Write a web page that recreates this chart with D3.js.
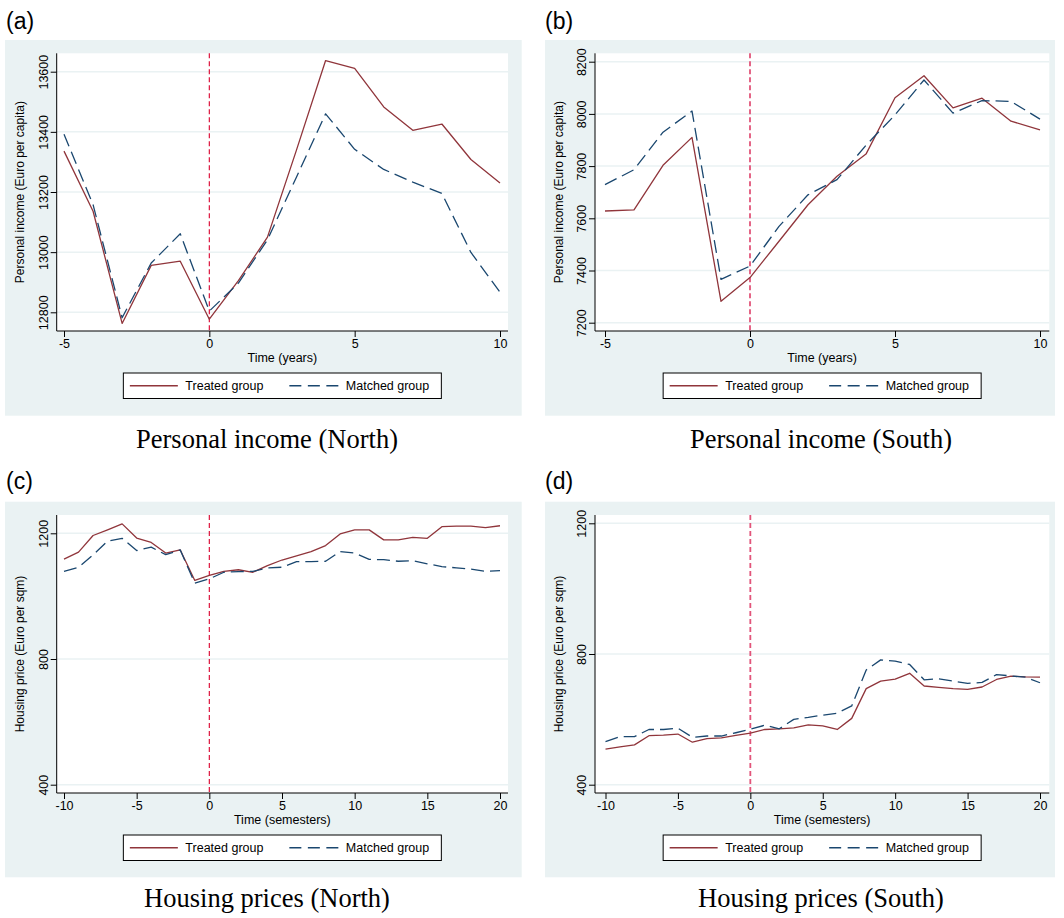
<!DOCTYPE html>
<html><head><meta charset="utf-8">
<script src="https://cdn.jsdelivr.net/npm/d3@7"></script>
<style>html,body{margin:0;padding:0;background:#fff;}svg{display:block;}</style>
</head><body>
<script>
// ---------- DATA ----------
const years = [-5,-4,-3,-2,-1,0,1,2,3,4,5,6,7,8,9,10];
const semesters = [-10,-9,-8,-7,-6,-5,-4,-3,-2,-1,0,1,2,3,4,5,6,7,8,9,10,11,12,13,14,15,16,17,18,19,20];

const northIncomeTreated = [13336,13136,12763,12956,12970,12777,12905,13050,13340,13637,13611,13483,13405,13426,13308,13230];
const northIncomeMatched = [13392,13158,12782,12964,13061,12804,12897,13041,13250,13460,13342,13275,13233,13195,12999,12867];
const southIncomeTreated = [7628,7632,7803,7910,7282,7373,7512,7652,7761,7846,8062,8146,8023,8060,7972,7939];
const southIncomeMatched = [7729,7786,7930,8011,7366,7417,7569,7690,7748,7880,7996,8130,8003,8051,8048,7980];

const northHousingTreated = [1118,1140,1193,1211,1230,1185,1171,1137,1147,1050,1066,1079,1084,1076,1097,1115,1128,1142,1161,1198,1211,1211,1179,1179,1187,1184,1221,1223,1223,1218,1224];
const northHousingMatched = [1079,1092,1131,1175,1184,1145,1156,1132,1147,1041,1055,1076,1078,1079,1090,1092,1110,1110,1111,1142,1137,1117,1116,1111,1113,1103,1094,1090,1086,1079,1081];
const southHousingTreated = [509,516,522,550,552,555,530,541,543,551,558,569,571,574,583,580,569,603,694,717,723,741,702,698,694,692,699,722,732,730,729];
const southHousingMatched = [532,547,547,569,569,573,545,549,549,559,570,582,571,600,606,613,619,641,751,782,778,768,721,724,717,710,713,737,733,729,712];

const yearTicks = [-5,0,5,10];
const semesterTicks = [-10,-5,0,5,10,15,20];
const northIncomeTicks = [12800,13000,13200,13400,13600];
const southIncomeTicks = [7200,7400,7600,7800,8000,8200];
const housingTicks = [400,800,1200];

const seriesNames = ["Treated group","Matched group"];
const panelLetters = ["(a)","(b)","(c)","(d)"];
const captions = ["Personal income (North)","Personal income (South)","Housing prices (North)","Housing prices (South)"];
const yTitles = ["Personal income (Euro per capita)","Personal income (Euro per capita)","Housing price (Euro per sqm)","Housing price (Euro per sqm)"];
const xTitles = ["Time (years)","Time (years)","Time (semesters)","Time (semesters)"];

// ---------- STYLE / LAYOUT ----------
const C = {
  bg:"#EAF2F3", grid:"#EAF2F3", treated:"#90353B", matched:"#1A476F", axis:"#000"
};
const sans = "'Liberation Sans', Arial, sans-serif";
const serif = "'Liberation Serif', 'Times New Roman', serif";

const panels = [
  {x:years, t:northIncomeTreated, m:northIncomeMatched, xt:yearTicks, yt:northIncomeTicks,
   xDom:[-5,10], yDom:[12800,13600],
   box:[5,40,521.7,415.7], plot:[56.7,53.3,508,331], xr:[64,500], yr:[312.3,71.7], capX:267, capY:448, letterX:6, letterY:28.5, vw:1.2, vc:"#DC143C"},
  {x:years, t:southIncomeTreated, m:southIncomeMatched, xt:yearTicks, yt:southIncomeTicks,
   xDom:[-5,10], yDom:[7200,8200],
   box:[545,40,1055,415.7], plot:[595,53.3,1049.3,331], xr:[605,1040], yr:[322.7,61.7], capX:821, capY:448, letterX:545, letterY:28.5, vw:1.8, vc:"#E2557A"},
  {x:semesters, t:northHousingTreated, m:northHousingMatched, xt:semesterTicks, yt:housingTicks,
   xDom:[-10,20], yDom:[400,1200],
   box:[5,501.7,521.7,877.3], plot:[56.7,515,508,793], xr:[64,500], yr:[784.7,533.3], capX:267, capY:907, letterX:6, letterY:488.5, vw:1.2, vc:"#DC143C"},
  {x:semesters, t:southHousingTreated, m:southHousingMatched, xt:semesterTicks, yt:housingTicks,
   xDom:[-10,20], yDom:[400,1200],
   box:[545,501.7,1055,877.3], plot:[595,515,1049.3,793], xr:[605.5,1040], yr:[784.7,523.3], capX:821, capY:907, letterX:545, letterY:488.5, vw:1.8, vc:"#E2557A"}
];

const svg = d3.select("body").append("svg").attr("width",1064).attr("height",918);
svg.append("rect").attr("width",1064).attr("height",918).attr("fill","#fff");

panels.forEach((p,i)=>{
  const g = svg.append("g");
  const [bx0,by0,bx1,by1] = p.box;
  const [px0,py0,px1,py1] = p.plot;
  g.append("rect").attr("x",bx0).attr("y",by0).attr("width",bx1-bx0).attr("height",by1-by0).attr("fill",C.bg);
  g.append("rect").attr("x",px0).attr("y",py0).attr("width",px1-px0).attr("height",py1-py0).attr("fill","#fff");

  const xs = d3.scaleLinear().domain(p.xDom).range(p.xr);
  const ys = d3.scaleLinear().domain(p.yDom).range(p.yr);

  // grid
  g.selectAll(".grid").data(p.yt).join("line")
    .attr("x1",px0).attr("x2",px1).attr("y1",d=>ys(d)).attr("y2",d=>ys(d))
    .attr("stroke",C.grid).attr("stroke-width",1.5);

  // y axis
  const yAxis = d3.axisLeft(ys).tickValues(p.yt).tickSize(6).tickPadding(0).tickFormat(d3.format("d"));
  const ya = g.append("g").attr("transform",`translate(${px0},0)`).call(yAxis);
  ya.select(".domain").remove();
  ya.selectAll(".tick line").attr("stroke",C.axis).attr("stroke-width",1);
  ya.selectAll(".tick text").attr("x",null).attr("dy",null)
    .attr("transform","translate(-9,0) rotate(-90)").attr("text-anchor","middle")
    .style("font-family",sans).style("font-size","12.5px").attr("fill","#000");
  g.append("line").attr("x1",px0).attr("x2",px0).attr("y1",py0).attr("y2",py1).attr("stroke",C.axis).attr("stroke-width",1);

  // x axis
  const xAxis = d3.axisBottom(xs).tickValues(p.xt).tickSize(6).tickPadding(2).tickFormat(d=>String(d).replace("−","-"));
  const xa = g.append("g").attr("transform",`translate(0,${py1})`).call(xAxis);
  xa.select(".domain").remove();
  xa.selectAll(".tick line").attr("stroke",C.axis).attr("stroke-width",1);
  xa.selectAll(".tick text").style("font-family",sans).style("font-size","12.5px").attr("fill","#000");
  g.append("line").attr("x1",px0).attr("x2",px1).attr("y1",py1).attr("y2",py1).attr("stroke",C.axis).attr("stroke-width",1);

  // vertical reference line at 0
  g.append("line").attr("x1",xs(0)).attr("x2",xs(0)).attr("y1",py0).attr("y2",py1)
    .attr("stroke",p.vc).attr("stroke-width",p.vw).attr("stroke-dasharray","5,3");

  // series
  const line = d3.line().x((d,k)=>xs(p.x[k])).y(d=>ys(d));
  g.append("path").datum(p.t).attr("d",line).attr("fill","none").attr("stroke",C.treated).attr("stroke-width",1.3).attr("stroke-linejoin","round");
  g.append("path").datum(p.m).attr("d",line).attr("fill","none").attr("stroke",C.matched).attr("stroke-width",1.3).attr("stroke-dasharray","13,6").attr("stroke-linejoin","round");

  // titles
  const pcx = (px0+px1)/2, pcy = (py0+py1)/2;
  g.append("text").attr("transform",`translate(${px0-32.5},${pcy}) rotate(-90)`).attr("text-anchor","middle")
    .style("font-family",sans).style("font-size","12px").text(yTitles[i]);
  g.append("text").attr("x",pcx).attr("y",py1+31).attr("text-anchor","middle")
    .style("font-family",sans).style("font-size","12.5px").text(xTitles[i]);

  // legend
  const lw = 318, lx = pcx - lw/2, ly = py1+42, lh = 25.5, lcy = ly + lh/2;
  g.append("rect").attr("x",lx).attr("y",ly).attr("width",lw).attr("height",lh).attr("fill","#fff").attr("stroke","#000").attr("stroke-width",1);
  g.append("line").attr("x1",lx+6.5).attr("x2",lx+54.5).attr("y1",lcy).attr("y2",lcy).attr("stroke",C.treated).attr("stroke-width",1.3);
  g.append("text").attr("x",lx+62).attr("y",lcy+4.5).style("font-family",sans).style("font-size","12.5px").text(seriesNames[0]);
  g.append("line").attr("x1",lx+166).attr("x2",lx+215).attr("y1",lcy).attr("y2",lcy).attr("stroke",C.matched).attr("stroke-width",1.3).attr("stroke-dasharray","12,6.5");
  g.append("text").attr("x",lx+222.5).attr("y",lcy+4.5).style("font-family",sans).style("font-size","12.5px").text(seriesNames[1]);

  // panel letter and caption
  g.append("text").attr("x",p.letterX).attr("y",p.letterY).style("font-family",sans).style("font-size","23px").text(panelLetters[i]);
  g.append("text").attr("x",p.capX).attr("y",p.capY).attr("text-anchor","middle").style("font-family",serif).style("font-size","26.5px").text(captions[i]);
});
</script>
</body></html>
